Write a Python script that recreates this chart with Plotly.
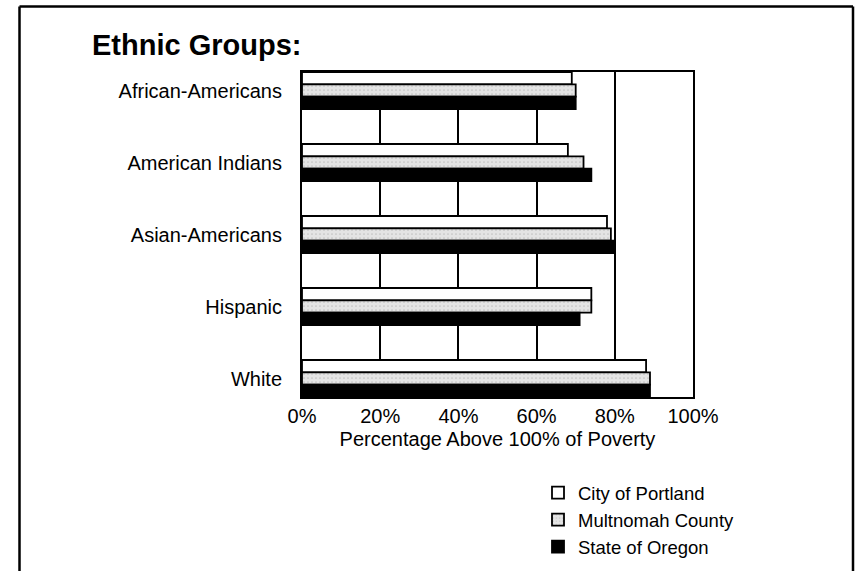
import plotly.graph_objects as go

categories = ["African-Americans", "American Indians", "Asian-Americans", "Hispanic", "White"]
city_of_portland = [69, 68, 78, 74, 88]
multnomah_county = [70, 72, 79, 74, 89]
state_of_oregon = [70, 74, 80, 71, 89]
x_ticks = [0, 20, 40, 60, 80, 100]
x_tick_labels = ["0%", "20%", "40%", "60%", "80%", "100%"]

FONT = "Liberation Sans, Arial, Helvetica, sans-serif"

fig = go.Figure()
fig.add_trace(go.Bar(
    y=categories, x=city_of_portland, orientation="h", name="City of Portland",
    marker=dict(color="white", line=dict(color="black", width=1.8)),
))
fig.add_trace(go.Bar(
    y=categories, x=multnomah_county, orientation="h", name="Multnomah County",
    marker=dict(color="#dedede", line=dict(color="black", width=1.8),
                pattern=dict(shape=".", fgcolor="#a0a0a0", bgcolor="#e4e4e4", size=4, solidity=0.15)),
))
fig.add_trace(go.Bar(
    y=categories, x=state_of_oregon, orientation="h", name="State of Oregon",
    marker=dict(color="black", line=dict(color="black", width=1.8)),
))

L, R, T, B = 302, 164, 72, 174
W, H = 857, 571
pw, ph = W - L - R, H - T - B

def px_x(p):
    return (p - L) / pw

def px_y(p):
    return (H - B - p) / ph

frame = dict(color="black", width=2.5)
shapes = [
    dict(type="line", xref="paper", yref="paper", x0=px_x(19.5), x1=px_x(19.5), y0=px_y(6.5), y1=px_y(580), line=frame),
    dict(type="line", xref="paper", yref="paper", x0=px_x(853), x1=px_x(853), y0=px_y(6.5), y1=px_y(580), line=frame),
    dict(type="line", xref="paper", yref="paper", x0=px_x(19.5), x1=px_x(853), y0=px_y(6.5), y1=px_y(6.5), line=frame),
]

fig.update_layout(
    width=W, height=H,
    margin=dict(l=L, r=R, t=T, b=B, autoexpand=False),
    paper_bgcolor="white", plot_bgcolor="white",
    barmode="group", bargap=0.486, bargroupgap=0,
    font=dict(family=FONT, size=20, color="black"),
    title=dict(text="<b>Ethnic Groups:</b>", font=dict(family=FONT, size=29, color="black"),
               xref="container", yref="container", x=92 / W, xanchor="left",
               y=1 - 45 / H, yanchor="middle"),
    showlegend=True,
    legend=dict(x=px_x(538), y=px_y(474), xanchor="left", yanchor="top",
                traceorder="normal", font=dict(family=FONT, size=18.5, color="black"),
                bgcolor="rgba(0,0,0,0)", tracegroupgap=0),
    shapes=shapes,
)
fig.update_xaxes(
    range=[0, 100], tickvals=x_ticks, ticktext=x_tick_labels,
    showgrid=True, gridcolor="black", gridwidth=1.5,
    showline=True, linecolor="black", linewidth=2, mirror=True,
    zeroline=False, ticks="",
    tickfont=dict(family=FONT, size=20, color="black"),
    title=dict(text="Percentage Above 100% of Poverty", standoff=6,
               font=dict(family=FONT, size=20, color="black")),
)
fig.update_yaxes(
    type="category", range=[4.257, -0.257],
    showgrid=False, showline=True, linecolor="black", linewidth=2, mirror=True,
    ticks="", ticklabelstandoff=14,
    tickfont=dict(family=FONT, size=20, color="black"),
)

fig.write_html("out.html")
